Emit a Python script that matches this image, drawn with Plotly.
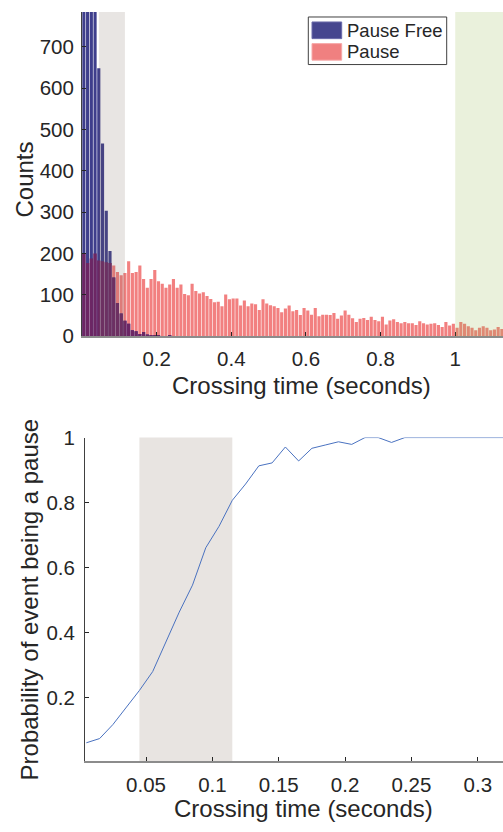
import plotly.graph_objects as go

# ---------------- data ----------------
BIN_WIDTH = 0.01  # seconds

pause_free = [3094, 2215, 1405, 976, 648, 466, 303, 206, 142, 80,
              55, 37, 30, 14, 12, 5, 10, 4, 3, 2,
              3, 0, 0, 2, 0, 0, 0, 0, 0, 0] + [0] * 83

pause = [201, 177, 188, 200, 183, 181, 179, 177, 171, 155,
         147, 153, 181, 153, 155, 171, 138, 117, 138, 160,
         133, 127, 117, 125, 138, 117, 125, 102, 99, 127,
         109, 103, 106, 97, 90, 82, 83, 72, 101, 89,
         91, 91, 74, 86, 72, 79, 77, 63, 89, 79,
         75, 72, 68, 58, 67, 74, 60, 63, 51, 68,
         62, 52, 68, 48, 52, 52, 51, 56, 42, 50,
         62, 52, 43, 34, 42, 44, 39, 47, 39, 36,
         47, 28, 38, 41, 34, 31, 34, 31, 31, 27,
         36, 31, 28, 30, 31, 27, 22, 34, 26, 30,
         20, 34, 30, 24, 20, 14, 20, 24, 20, 14,
         16, 22, 17]

bin_centers = [round(BIN_WIDTH * (i + 0.5), 4) for i in range(len(pause))]
overlap = [min(a, b) for a, b in zip(pause_free, pause)]

prob_pause = [0.061, 0.074, 0.117, 0.169, 0.222, 0.280, 0.374, 0.463, 0.546, 0.661,
              0.727, 0.807, 0.857, 0.913, 0.922, 0.971, 0.928, 0.967, 0.977, 0.987,
              0.979, 1.0, 1.0, 0.985, 1.0, 1.0, 1.0, 1.0, 1.0, 1.0,
              1.0, 1.0, 1.0]
prob_x = [round(BIN_WIDTH * (i + 0.5), 4) for i in range(len(prob_pause))]

top_xticks = [0.2, 0.4, 0.6, 0.8, 1.0]
top_xtext = ["0.2", "0.4", "0.6", "0.8", "1"]
top_yticks = [0, 100, 200, 300, 400, 500, 600, 700]
bot_xticks = [0.05, 0.1, 0.15, 0.2, 0.25, 0.3]
bot_xtext = ["0.05", "0.1", "0.15", "0.2", "0.25", "0.3"]
bot_yticks = [0.2, 0.4, 0.6, 0.8, 1.0]
bot_ytext = ["0.2", "0.4", "0.6", "0.8", "1"]

shade_threshold = (0.045, 0.115)
long_pause_start = 1.0

# ---------------- layout helpers ----------------
W, H = 503, 832
ML, MR, MT, MB = 82, 0, 10, 71
PW, PH = W - ML - MR, H - MT - MB


def px(x):
    return (x - ML) / PW


def py(y):
    return (H - MB - y) / PH


FONT = "Liberation Sans, Arial, Helvetica, sans-serif"
TXT = "#262626"
BLUE = "#3E3E8C"
RED = "#F28080"
PURPLE = "#6C2664"

fig = go.Figure()

fig.add_trace(go.Bar(x=bin_centers, y=pause, marker=dict(color=RED, line=dict(width=0)),
                     name="Pause", showlegend=False, xaxis="x", yaxis="y"))
fig.add_trace(go.Bar(x=bin_centers, y=pause_free, marker=dict(color=BLUE, line=dict(width=0)),
                     name="Pause Free", showlegend=False, xaxis="x", yaxis="y"))
fig.add_trace(go.Bar(x=bin_centers, y=overlap, marker=dict(color=PURPLE, line=dict(width=0)),
                     name="overlap", showlegend=False, xaxis="x", yaxis="y"))

fig.add_trace(go.Scatter(x=prob_x, y=prob_pause, mode="lines",
                         line=dict(color="#4A72C0", width=1),
                         showlegend=False, xaxis="x2", yaxis="y2"))

tick_font = dict(family=FONT, size=20.5, color=TXT)

fig.update_layout(
    width=W, height=H,
    margin=dict(l=ML, r=MR, t=MT, b=MB),
    paper_bgcolor="white", plot_bgcolor="white",
    barmode="overlay", bargap=0.16,
    showlegend=False,
    xaxis=dict(domain=[0, 1], range=[0, 1.128], anchor="y",
               tickvals=top_xticks, ticktext=top_xtext, tickfont=tick_font,
               ticks="inside", ticklen=4, tickcolor=TXT, tickwidth=1,
               showline=True, linecolor="#8C8C8C", linewidth=1.5,
               showgrid=False, zeroline=False, ticklabelstandoff=4),
    yaxis=dict(domain=[py(335), 1], range=[0, 784], anchor="x",
               tickvals=top_yticks, tickfont=tick_font,
               ticks="inside", ticklen=4, tickcolor=TXT, tickwidth=1,
               showline=True, linecolor="#404040", linewidth=1,
               showgrid=False, zeroline=False, ticklabelstandoff=3),
    xaxis2=dict(domain=[px(85), 1], range=[0.004, 0.319], anchor="y2",
                tickvals=bot_xticks, ticktext=bot_xtext, tickfont=tick_font,
                ticks="inside", ticklen=4, tickcolor=TXT, tickwidth=1,
                showline=True, linecolor="#8C8C8C", linewidth=1.5,
                showgrid=False, zeroline=False, ticklabelstandoff=5),
    yaxis2=dict(domain=[0, py(436.7)], range=[0.005, 1], anchor="x2",
                tickvals=bot_yticks, ticktext=bot_ytext, tickfont=tick_font,
                ticks="inside", ticklen=4, tickcolor=TXT, tickwidth=1,
                showline=True, linecolor="#404040", linewidth=1,
                showgrid=False, zeroline=False, ticklabelstandoff=5),
)

shapes = [
    # top histogram shading (drawn above the bars, translucent)
    dict(type="rect", xref="x", yref="y domain", x0=shade_threshold[0], x1=shade_threshold[1],
         y0=0, y1=1, fillcolor="rgba(120,100,90,0.17)", line=dict(width=0), layer="above"),
    dict(type="rect", xref="x", yref="y domain", x0=long_pause_start, x1=1.128,
         y0=0, y1=1, fillcolor="rgba(140,180,60,0.18)", line=dict(width=0), layer="above"),
    # bottom shading
    dict(type="rect", xref="x2", yref="y2 domain", x0=shade_threshold[0], x1=shade_threshold[1],
         y0=0, y1=1, fillcolor="#E8E4E1", line=dict(width=0), layer="below"),
    # legend box and swatches
    dict(type="rect", xref="paper", yref="paper", x0=px(308.3), x1=px(446.7),
         y0=py(62.7), y1=py(15), fillcolor="white", line=dict(color="#404040", width=1),
         layer="above"),
    dict(type="rect", xref="paper", yref="paper", x0=px(312), x1=px(341.7),
         y0=py(36.7), y1=py(20), fillcolor="#46468F", line=dict(color="#6A6AAA", width=1),
         layer="above"),
    dict(type="rect", xref="paper", yref="paper", x0=px(312), x1=px(341.7),
         y0=py(58.3), y1=py(41.7), fillcolor="#F08080", line=dict(color="#F6A8A8", width=1),
         layer="above"),
]
fig.update_layout(shapes=shapes)

title_font = dict(family=FONT, size=24, color=TXT)
leg_font = dict(family=FONT, size=18.5, color=TXT)
annotations = [
    dict(text="Crossing time (seconds)", x=px(301), y=py(384), xref="paper", yref="paper",
         xanchor="center", yanchor="middle", showarrow=False, font=title_font),
    dict(text="Crossing time (seconds)", x=px(303), y=py(809), xref="paper", yref="paper",
         xanchor="center", yanchor="middle", showarrow=False, font=title_font),
    dict(text="Counts", x=px(25), y=py(178), xref="paper", yref="paper", textangle=-90,
         xanchor="center", yanchor="middle", showarrow=False, font=title_font),
    dict(text="Probability of event being a pause", x=px(29), y=py(599), xref="paper",
         yref="paper", textangle=-90, xanchor="center", yanchor="middle",
         showarrow=False, font=title_font),
    dict(text="Pause Free", x=px(345), y=py(28.3), xref="paper", yref="paper",
         xanchor="left", yanchor="middle", showarrow=False, font=leg_font),
    dict(text="Pause", x=px(345), y=py(50), xref="paper", yref="paper",
         xanchor="left", yanchor="middle", showarrow=False, font=leg_font),
]
fig.update_layout(annotations=annotations)

fig.write_html("out.html")
